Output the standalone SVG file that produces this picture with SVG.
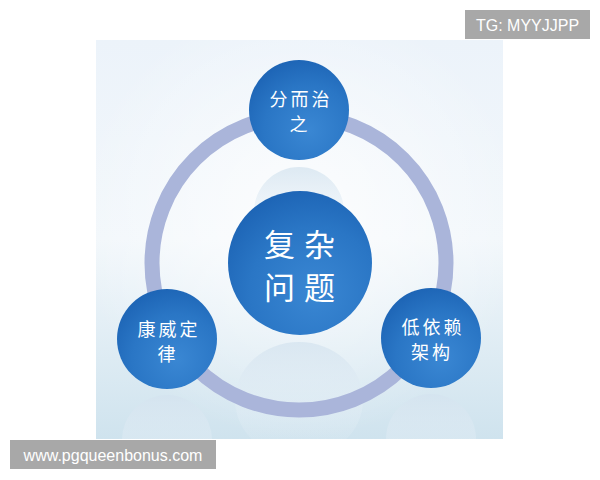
<svg xmlns="http://www.w3.org/2000/svg" width="600" height="480" viewBox="0 0 600 480">
  <defs>
    <linearGradient id="bg" x1="0" y1="0" x2="0" y2="1">
      <stop offset="0" stop-color="#ecf3fa"/>
      <stop offset="0.5" stop-color="#f2f7fb"/>
      <stop offset="1" stop-color="#cfe3ee"/>
    </linearGradient>
    <radialGradient id="bgGlow" cx="0.5" cy="0.45" r="0.55">
      <stop offset="0" stop-color="#ffffff" stop-opacity="0.8"/>
      <stop offset="1" stop-color="#ffffff" stop-opacity="0"/>
    </radialGradient>
    <radialGradient id="ball" cx="0.6" cy="0.7" r="0.75">
      <stop offset="0" stop-color="#3a87d3"/>
      <stop offset="0.6" stop-color="#2a76c5"/>
      <stop offset="1" stop-color="#1c63b4"/>
    </radialGradient>
    <linearGradient id="refl" x1="0" y1="0" x2="0" y2="1">
      <stop offset="0" stop-color="#d4e3ef" stop-opacity="0.75"/>
      <stop offset="0.5" stop-color="#e2edf5" stop-opacity="0.45"/>
      <stop offset="1" stop-color="#eef4f9" stop-opacity="0"/>
    </linearGradient>
    <clipPath id="bgclip"><rect x="96" y="40" width="407" height="399"/></clipPath>
  </defs>
  <style>
    .ball { fill: url(#ball); }
    .refl { fill: url(#refl); }
    .lbl { fill: #ffffff; font-family: "Noto Sans CJK SC", "Noto Sans CJK JP", sans-serif; text-anchor: middle; }
    .sm { font-size: 18px; letter-spacing: 3px; }
    .big { font-size: 31px; letter-spacing: 9px; }
    .wm { fill: #a8a8a8; }
    .wmt { fill: #ffffff; font-family: "Liberation Sans", Arial, sans-serif; font-size: 16px; }
  </style>

  <rect x="0" y="0" width="600" height="480" fill="#ffffff"/>
  <g clip-path="url(#bgclip)">
    <rect x="96" y="40" width="407" height="399" fill="url(#bg)"/>
    <rect x="96" y="40" width="407" height="399" fill="url(#bgGlow)"/>
    <!-- reflections -->
    <ellipse class="refl" cx="299" cy="400" rx="64" ry="58"/>
    <ellipse class="refl" cx="299" cy="212" rx="45" ry="45"/>
    <ellipse class="refl" cx="167" cy="440" rx="45" ry="45"/>
    <ellipse class="refl" cx="431" cy="439" rx="45" ry="45"/>
  </g>

  <g id="connectors">
    <circle cx="299" cy="263" r="147" fill="none" stroke="#aab5da" stroke-width="15"/>
  </g>

  <g id="node-center">
    <circle class="ball" cx="300" cy="263" r="72"/>
    <text class="lbl big" x="304" y="256">复杂</text>
    <text class="lbl big" x="304" y="299">问题</text>
  </g>

  <g id="node-top">
    <circle class="ball" cx="299" cy="110" r="50"/>
    <text class="lbl sm" x="301" y="106">分而治</text>
    <text class="lbl sm" x="300" y="131">之</text>
  </g>

  <g id="node-left">
    <circle class="ball" cx="167" cy="339" r="50"/>
    <text class="lbl sm" x="169" y="336">康威定</text>
    <text class="lbl sm" x="168" y="361">律</text>
  </g>

  <g id="node-right">
    <circle class="ball" cx="431" cy="338" r="50"/>
    <text class="lbl sm" x="433" y="334">低依赖</text>
    <text class="lbl sm" x="432" y="359">架构</text>
  </g>

  <g id="watermark-top">
    <rect class="wm" x="465" y="10" width="125" height="29"/>
    <text class="wmt" x="527.5" y="30.5" text-anchor="middle">TG: MYYJJPP</text>
  </g>
  <g id="watermark-bottom">
    <rect class="wm" x="10" y="440" width="206" height="29"/>
    <text class="wmt" x="113" y="460.5" text-anchor="middle">www.pgqueenbonus.com</text>
  </g>
</svg>
